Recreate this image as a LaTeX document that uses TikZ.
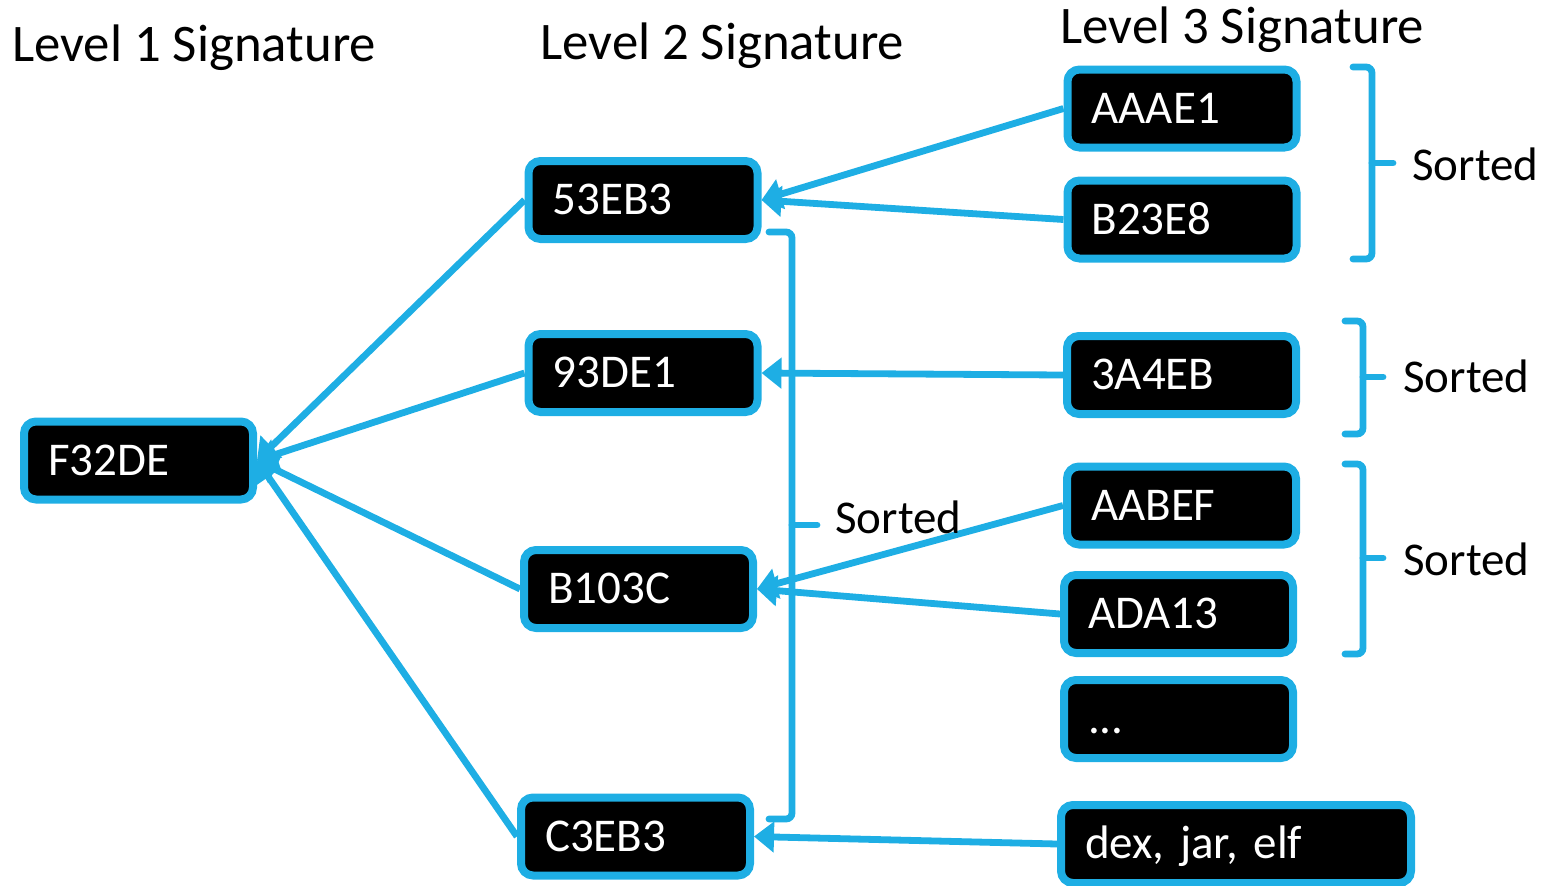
\documentclass[tikz,border=0pt]{standalone}
\usepackage{fontspec}
\setmainfont{Carlito}
\usetikzlibrary{arrows.meta}
\definecolor{sigblue}{RGB}{30,174,228}
\begin{document}
\begin{tikzpicture}[x=0.5pt,y=-0.5pt,
  sig/.style={draw=sigblue, fill=black, line width=4pt, rounded corners=6pt,
    text=white, font=\fontsize{23.5}{28}\selectfont\frenchspacing, minimum height=39pt,
    text width=90.5pt, align=left, inner xsep=12pt, inner ysep=0pt,
    text height=14.6pt, text depth=0pt},
  title/.style={font=\fontsize{26.4}{31}\selectfont, anchor=base west, inner sep=0pt},
  lbl/.style={font=\fontsize{23.5}{28}\selectfont, anchor=base west, inner sep=0pt},
  conn/.style={draw=sigblue, line width=3.4pt, -{Triangle[length=10pt,width=15pt]}},
  brk/.style={draw=sigblue, line width=3.4pt, rounded corners=3pt, line cap=round}]
\useasboundingbox (0,0) rectangle (1549,885);

\node[title] (t1) at (12,61) {Level 1 Signature};
\node[title] (t2) at (540,59) {Level 2 Signature};
\node[title] (t3) at (1060,43) {Level 3 Signature};

\node[sig] (f32) at (138.5,460.5) {F32DE};
\node[sig] (n53) at (643,200) {53EB3};
\node[sig] (n93) at (643,373) {93DE1};
\node[sig] (nb1) at (638.5,589) {B103C};
\node[sig] (nc3) at (635.5,836.5) {C3EB3};

\node[sig] (aaae) at (1182,108.5) {AAAE1};
\node[sig] (b23) at (1182,219.5) {B23E8};
\node[sig] (n3a) at (1181.5,375) {3A4EB};
\node[sig] (aabe) at (1181.5,505.5) {AABEF};
\node[sig] (ada) at (1178.5,614) {ADA13};
\node[sig] (dots) at (1178.5,719) {...};
\node[sig, text width=151pt] (dex) at (1236,844) {dex, jar, elf};

% level 2 -> level 1
\draw[conn] (n53.west) -- (f32.east);
\draw[conn] (n93.west) -- (f32.east);
\draw[conn] (nb1.west) -- (f32.east);
\draw[conn] (nc3.west) -- (f32.east);

% level 3 -> level 2
\draw[conn] (aaae.west) -- (n53.east);
\draw[conn] (b23.west) -- (n53.east);
\draw[conn] (n3a.west) -- (n93.east);
\draw[conn] (aabe.west) -- (nb1.east);
\draw[conn] (ada.west) -- (nb1.east);
\draw[conn] (dex.west) -- (nc3.east);

% brackets
\draw[brk] (1353,67) -- (1372,67) -- (1372,259) -- (1353,259);
\draw[brk] (1372,163) -- (1393,163);
\node[lbl] (s1) at (1412,180) {Sorted};

\draw[brk] (1345,321) -- (1363,321) -- (1363,434) -- (1345,434);
\draw[brk] (1363,377) -- (1383,377);
\node[lbl] (s2) at (1403,392) {Sorted};

\draw[brk] (1345,464) -- (1363,464) -- (1363,654) -- (1345,654);
\draw[brk] (1363,558) -- (1383,558);
\node[lbl] (s3) at (1403,575) {Sorted};

\draw[brk] (769,232) -- (792,232) -- (792,819) -- (769,819);
\draw[brk] (792,525) -- (817,525);
\node[lbl] (s4) at (835,533) {Sorted};
\end{tikzpicture}
\end{document}
